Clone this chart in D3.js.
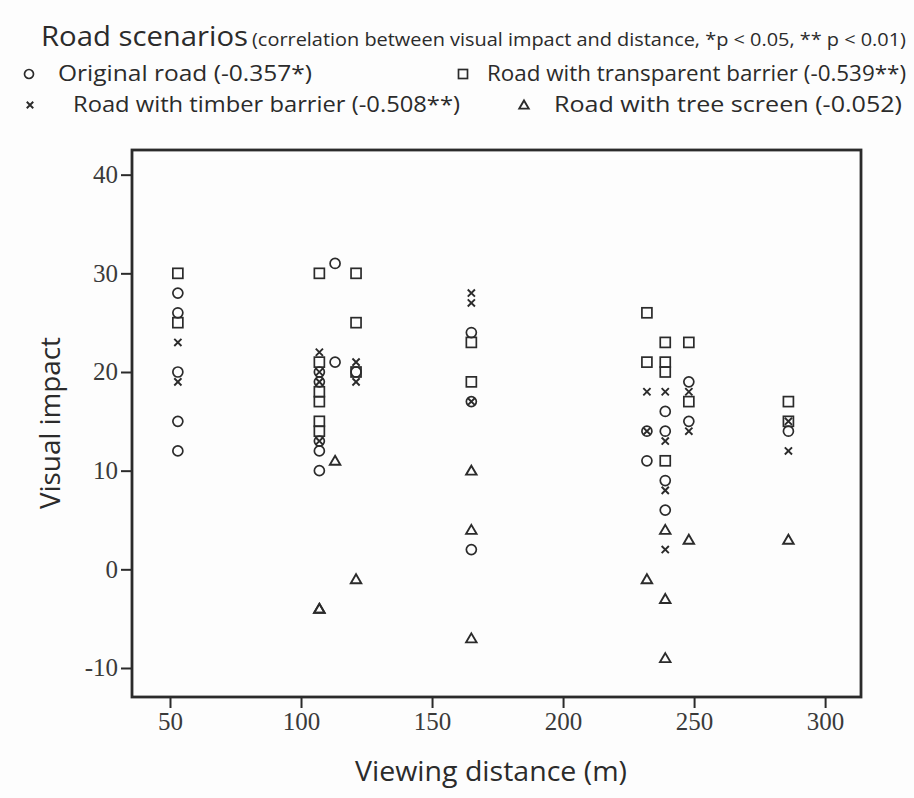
<!DOCTYPE html>
<html>
<head>
<meta charset="utf-8">
<script src="https://cdn.jsdelivr.net/npm/d3@7"></script>
<style>
  html, body { margin: 0; padding: 0; background: #fff; }
  svg { display: block; }
</style>
</head>
<body>
<svg id="chart" width="914" height="798"></svg>
<script>
// distance (m), visual impact
const originalRoad = [
  [53, 28], [53, 26], [53, 20], [53, 15], [53, 12],
  [107, 20], [107, 19], [107, 13], [107, 12], [107, 10],
  [113, 31], [113, 21],
  [121, 20],
  [165, 24], [165, 17], [165, 2],
  [232, 14], [232, 11],
  [239, 16], [239, 14], [239, 9], [239, 6],
  [248, 19], [248, 15],
  [286, 14]
];
const transparentBarrier = [
  [53, 30], [53, 25],
  [107, 30], [107, 21], [107, 18], [107, 17], [107, 15], [107, 14],
  [121, 30], [121, 25], [121, 20],
  [165, 23], [165, 19],
  [232, 26], [232, 21],
  [239, 23], [239, 21], [239, 20], [239, 11],
  [248, 23], [248, 17],
  [286, 17], [286, 15]
];
const timberBarrier = [
  [53, 23], [53, 19],
  [107, 22], [107, 20], [107, 19], [107, 13],
  [121, 21], [121, 19],
  [165, 28], [165, 27], [165, 17],
  [232, 18], [232, 14],
  [239, 18], [239, 13], [239, 8], [239, 2],
  [248, 18], [248, 14],
  [286, 15], [286, 12]
];
const treeScreen = [
  [107, -4], [107, -4],
  [113, 11],
  [121, -1],
  [165, 10], [165, 4], [165, -7],
  [232, -1],
  [239, 4], [239, -3], [239, -9],
  [248, 3],
  [286, 3]
];

const xTicks = [50, 100, 150, 200, 250, 300];
const yTicks = [-10, 0, 10, 20, 30, 40];

const ink = "#2b2b2b";
const sansFont = "'Open Sans', 'Noto Sans', sans-serif";
const serifFont = "'Liberation Serif', 'DejaVu Serif', serif";

const svg = d3.select("#chart");
svg.append("rect").attr("width", 914).attr("height", 798).attr("fill", "#fdfdfd");

// plot area
const plot = { left: 132, right: 861, top: 150, bottom: 697 };

const x = d3.scaleLinear().domain([35.5, 313.7]).range([plot.left, plot.right]);
const y = d3.scaleLinear().domain([-12.94, 42.5]).range([plot.bottom, plot.top]);

function drawMarker(g, shape, cx, cy, s) {
  const m = g.append("g").attr("transform", `translate(${cx},${cy})`)
    .attr("fill", "none").attr("stroke", ink).attr("stroke-width", 1.7);
  if (shape === "circle") {
    m.append("circle").attr("r", s);
  } else if (shape === "square") {
    m.append("rect").attr("x", -s).attr("y", -s).attr("width", 2 * s).attr("height", 2 * s);
  } else if (shape === "cross") {
    const c = s * 0.72;
    m.append("path").attr("d", `M${-c},${-c}L${c},${c}M${-c},${c}L${c},${-c}`).attr("stroke-width", 1.9);
  } else if (shape === "triangle") {
    m.append("path").attr("d", `M0,${-s}L${s * 1.05},${s * 0.8}L${-s * 1.05},${s * 0.8}Z`).attr("stroke-width", 1.9);
  }
}

// axes
const yAxis = svg.append("g")
  .attr("transform", `translate(${plot.left},0)`)
  .call(d3.axisLeft(y).tickValues(yTicks).tickSize(11).tickPadding(3));

const xAxis = svg.append("g")
  .attr("transform", `translate(0,${plot.bottom})`)
  .call(d3.axisBottom(x).tickValues(xTicks).tickSize(11).tickPadding(4));

[yAxis, xAxis].forEach(a => {
  a.select(".domain").remove();
  a.selectAll(".tick line").attr("stroke", ink).attr("stroke-width", 2);
  a.selectAll(".tick text")
    .attr("fill", "#3a3a3a")
    .style("font-family", serifFont)
    .style("font-size", "25px");
});
yAxis.selectAll(".tick text").text(d => d < 0 ? "-" + Math.abs(d) : d);

// frame
svg.append("rect")
  .attr("x", plot.left).attr("y", plot.top)
  .attr("width", plot.right - plot.left).attr("height", plot.bottom - plot.top)
  .attr("fill", "none").attr("stroke", ink).attr("stroke-width", 2.8);

// points
const pts = svg.append("g");
const series = [
  { data: originalRoad, shape: "circle" },
  { data: transparentBarrier, shape: "square" },
  { data: timberBarrier, shape: "cross" },
  { data: treeScreen, shape: "triangle" }
];
series.forEach(sr => {
  sr.data.forEach(d => drawMarker(pts, sr.shape, x(d[0]), y(d[1]), 5));
});

// axis titles
svg.append("text")
  .attr("x", 491).attr("y", 781)
  .attr("text-anchor", "middle")
  .attr("fill", ink)
  .style("font-family", sansFont).style("font-size", "27px")
  .attr("textLength", 272).attr("lengthAdjust", "spacingAndGlyphs")
  .text("Viewing distance (m)");

svg.append("text")
  .attr("transform", "translate(60,423) rotate(-90)")
  .attr("text-anchor", "middle")
  .attr("fill", ink)
  .style("font-family", sansFont).style("font-size", "27px")
  .attr("textLength", 172).attr("lengthAdjust", "spacingAndGlyphs")
  .text("Visual impact");

// title and legend
function label(tx, ty, size, len, str) {
  svg.append("text")
    .attr("x", tx).attr("y", ty)
    .attr("fill", ink)
    .style("font-family", sansFont).style("font-size", size + "px")
    .attr("textLength", len).attr("lengthAdjust", "spacingAndGlyphs")
    .text(str);
}

label(41, 46, 28, 207, "Road scenarios");
label(252, 46, 18, 654, "(correlation between visual impact and distance, *p < 0.05, ** p < 0.01)");

const legendItems = [
  { shape: "circle", mx: 29, tx: 58, len: 254, ty: 81, text: "Original road (-0.357*)" },
  { shape: "square", mx: 463, tx: 487, len: 419, ty: 81, text: "Road with transparent barrier (-0.539**)" },
  { shape: "cross", mx: 30, tx: 73, len: 387, ty: 112, text: "Road with timber barrier (-0.508**)" },
  { shape: "triangle", mx: 524, tx: 554, len: 348, ty: 112, text: "Road with tree screen (-0.052)" }
];
legendItems.forEach(it => {
  drawMarker(svg, it.shape, it.mx, it.ty - 7, 4.5);
  label(it.tx, it.ty, 22, it.len, it.text);
});
</script>
</body>
</html>
